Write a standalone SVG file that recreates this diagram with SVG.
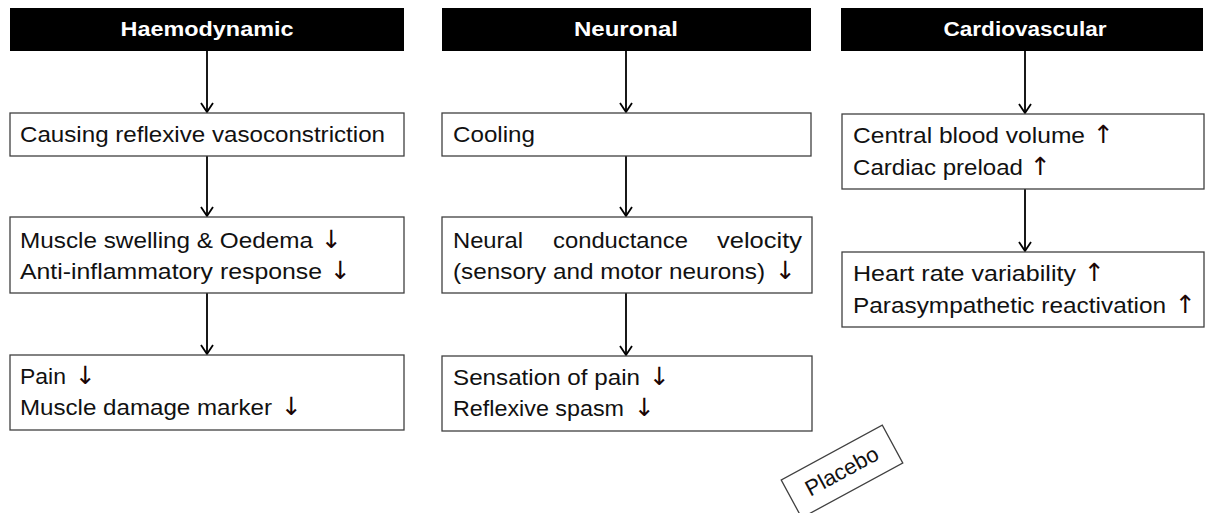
<svg xmlns="http://www.w3.org/2000/svg" width="1205" height="513" viewBox="0 0 1205 513">
<style>
.hdr{fill:#000}
.hdrt{fill:#fff;font-family:"Liberation Sans",Arial,sans-serif;font-weight:bold;font-size:20px;text-anchor:middle}
.box{fill:#fff;stroke:#404040;stroke-width:1.3}
.t{fill:#111;font-family:"Liberation Sans",Arial,sans-serif;font-size:22px}
.ar{fill:#1a0505;font-family:"DejaVu Sans",sans-serif;font-size:25px}
.con{stroke:#000;stroke-width:1.8;fill:none}
</style>
<defs>
<marker id="v" viewBox="0 0 14 14" refX="13" refY="7" markerWidth="14" markerHeight="14" markerUnits="userSpaceOnUse" orient="auto">
<path d="M4,1 L13,7 L4,13" fill="none" stroke="#000" stroke-width="1.8"/>
</marker>
</defs>
<g id="connectors">
<line class="con" x1="207" y1="51" x2="207" y2="112" marker-end="url(#v)"/>
<line class="con" x1="207" y1="156" x2="207" y2="216" marker-end="url(#v)"/>
<line class="con" x1="207" y1="293" x2="207" y2="354" marker-end="url(#v)"/>
<line class="con" x1="626" y1="51" x2="626" y2="112" marker-end="url(#v)"/>
<line class="con" x1="626" y1="156" x2="626" y2="216" marker-end="url(#v)"/>
<line class="con" x1="626" y1="293" x2="626" y2="355" marker-end="url(#v)"/>
<line class="con" x1="1025" y1="51" x2="1025" y2="113" marker-end="url(#v)"/>
<line class="con" x1="1025" y1="189" x2="1025" y2="251" marker-end="url(#v)"/>
</g>
<g id="h1"><rect class="hdr" x="10" y="8" width="394" height="43"/><text class="hdrt" x="207" y="36" textLength="173" lengthAdjust="spacingAndGlyphs">Haemodynamic</text></g>
<g id="h2"><rect class="hdr" x="442" y="8" width="369" height="43"/><text class="hdrt" x="626" y="36" textLength="104" lengthAdjust="spacingAndGlyphs">Neuronal</text></g>
<g id="h3"><rect class="hdr" x="841" y="8" width="362" height="43"/><text class="hdrt" x="1025" y="36" textLength="163" lengthAdjust="spacingAndGlyphs">Cardiovascular</text></g>

<g id="a1"><rect class="box" x="10" y="113" width="394" height="43"/><text class="t" x="20" y="142" textLength="365" lengthAdjust="spacingAndGlyphs">Causing reflexive vasoconstriction</text></g>
<g id="a2"><rect class="box" x="10" y="217" width="394" height="76"/>
<text class="t" x="20" y="248"><tspan textLength="293" lengthAdjust="spacingAndGlyphs">Muscle swelling &amp; Oedema</tspan><tspan class="ar" x="321">↓</tspan></text>
<text class="t" x="20" y="279"><tspan textLength="302" lengthAdjust="spacingAndGlyphs">Anti-inflammatory response</tspan><tspan class="ar" x="330">↓</tspan></text></g>
<g id="a3"><rect class="box" x="10" y="355" width="394" height="75"/>
<text class="t" x="20" y="384"><tspan textLength="46" lengthAdjust="spacingAndGlyphs">Pain</tspan><tspan class="ar" x="75">↓</tspan></text>
<text class="t" x="20" y="415"><tspan textLength="252" lengthAdjust="spacingAndGlyphs">Muscle damage marker</tspan><tspan class="ar" x="281">↓</tspan></text></g>

<g id="b1"><rect class="box" x="442" y="113" width="369" height="43"/><text class="t" x="453" y="142" textLength="82" lengthAdjust="spacingAndGlyphs">Cooling</text></g>
<g id="b2"><rect class="box" x="442" y="217" width="370" height="76"/>
<text class="t" y="248"><tspan x="453" textLength="70" lengthAdjust="spacingAndGlyphs">Neural</tspan><tspan x="553" textLength="135" lengthAdjust="spacingAndGlyphs">conductance</tspan><tspan x="717" textLength="85" lengthAdjust="spacingAndGlyphs">velocity</tspan></text>
<text class="t" x="453" y="279"><tspan textLength="312" lengthAdjust="spacingAndGlyphs">(sensory and motor neurons)</tspan><tspan class="ar" x="775">↓</tspan></text></g>
<g id="b3"><rect class="box" x="442" y="356" width="370" height="75"/>
<text class="t" x="453" y="385"><tspan textLength="187" lengthAdjust="spacingAndGlyphs">Sensation of pain</tspan><tspan class="ar" x="649">↓</tspan></text>
<text class="t" x="453" y="416"><tspan textLength="171" lengthAdjust="spacingAndGlyphs">Reflexive spasm</tspan><tspan class="ar" x="634">↓</tspan></text></g>

<g id="c1"><rect class="box" x="842" y="114" width="362" height="75"/>
<text class="t" x="853" y="143"><tspan textLength="232" lengthAdjust="spacingAndGlyphs">Central blood volume</tspan><tspan class="ar" x="1093">↑</tspan></text>
<text class="t" x="853" y="175"><tspan textLength="170" lengthAdjust="spacingAndGlyphs">Cardiac preload</tspan><tspan class="ar" x="1030">↑</tspan></text></g>
<g id="c2"><rect class="box" x="842" y="252" width="362" height="75"/>
<text class="t" x="853" y="281"><tspan textLength="223" lengthAdjust="spacingAndGlyphs">Heart rate variability</tspan><tspan class="ar" x="1084">↑</tspan></text>
<text class="t" x="853" y="313"><tspan textLength="313" lengthAdjust="spacingAndGlyphs">Parasympathetic reactivation</tspan><tspan class="ar" x="1175">↑</tspan></text></g>

<g id="placebo" transform="translate(842,471.5) rotate(-28.5)">
<rect class="box" x="-57.5" y="-21.5" width="115" height="43"/>
<text class="t" x="0" y="7" text-anchor="middle" font-size="20" textLength="80" lengthAdjust="spacingAndGlyphs">Placebo</text>
</g>
</svg>
